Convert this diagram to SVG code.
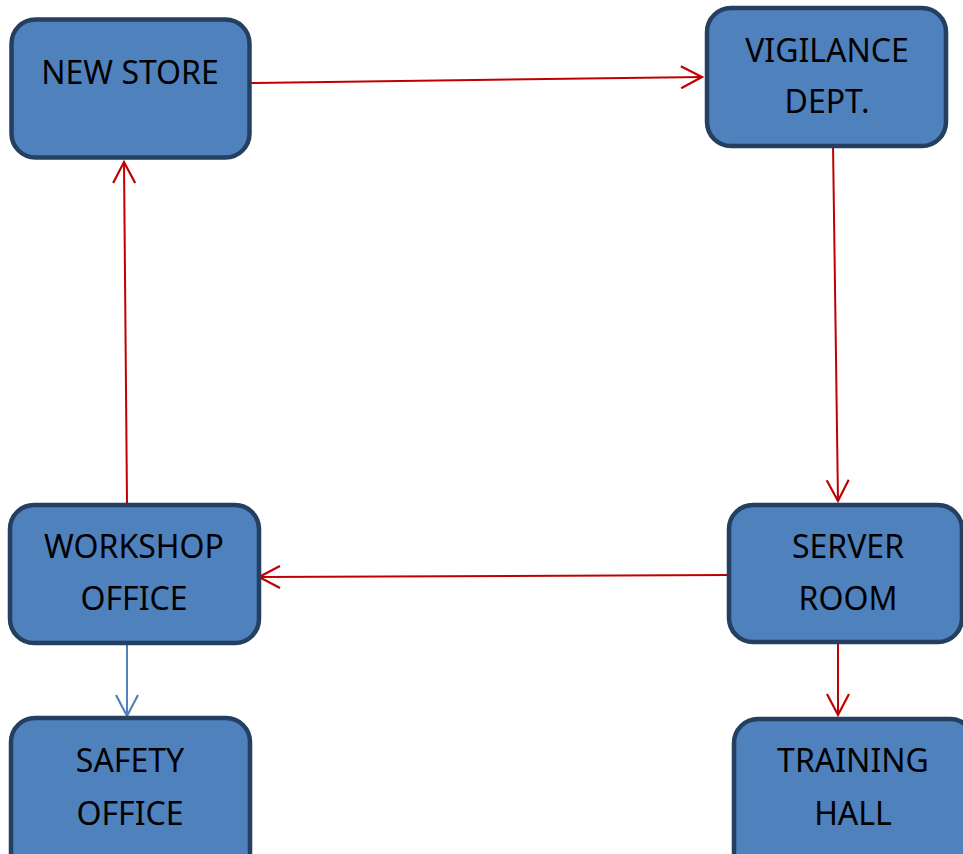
<svg xmlns="http://www.w3.org/2000/svg" width="963" height="854" viewBox="0 0 963 854">
<style>
.box{fill:#4f81bd;stroke:#243f60;stroke-width:4.5}
.lbl{font-family:"Noto Sans","Open Sans",sans-serif;font-size:32px;fill:#000;text-anchor:middle}
.red{stroke:#c00000;stroke-width:2;fill:none}
.blue{stroke:#4f81bd;stroke-width:2;fill:none}
</style>
<defs>
<marker id="ar" markerUnits="userSpaceOnUse" markerWidth="26" markerHeight="26" viewBox="-2 -2 26 26" refX="21" refY="11" orient="auto">
<path d="M0,0 L21,11 L0,22" fill="none" stroke="#c00000" stroke-width="2.2"/>
</marker>
<marker id="ab" markerUnits="userSpaceOnUse" markerWidth="26" markerHeight="26" viewBox="-2 -2 26 26" refX="21" refY="11" orient="auto">
<path d="M0,0 L21,11 L0,22" fill="none" stroke="#4f81bd" stroke-width="2.2"/>
</marker>
</defs>
<rect width="963" height="854" fill="#fff"/>
<g id="connectors">
<line class="red" x1="250" y1="83" x2="702" y2="77" marker-end="url(#ar)"/>
<line class="red" x1="833" y1="144" x2="838" y2="501" marker-end="url(#ar)"/>
<line class="red" x1="727" y1="575" x2="259" y2="577" marker-end="url(#ar)"/>
<line class="red" x1="127" y1="503" x2="124" y2="162" marker-end="url(#ar)"/>
<line class="blue" x1="127" y1="645" x2="127" y2="716" marker-end="url(#ab)"/>
<line class="red" x1="838" y1="644" x2="838" y2="715" marker-end="url(#ar)"/>
</g>
<g id="new-store">
<rect class="box" x="11.5" y="19.5" width="238" height="138" rx="24"/>
<text class="lbl" x="130" y="84">NEW STORE</text>
</g>
<g id="vigilance-dept">
<rect class="box" x="707" y="8" width="239" height="138" rx="24"/>
<text class="lbl" x="827" y="62">VIGILANCE</text>
<text class="lbl" x="827" y="113">DEPT.</text>
</g>
<g id="workshop-office">
<rect class="box" x="10" y="505" width="249" height="138" rx="24"/>
<text class="lbl" x="134" y="558">WORKSHOP</text>
<text class="lbl" x="134" y="610">OFFICE</text>
</g>
<g id="server-room">
<rect class="box" x="729" y="505" width="233" height="137" rx="24"/>
<text class="lbl" x="848" y="558">SERVER</text>
<text class="lbl" x="848" y="610">ROOM</text>
</g>
<g id="safety-office">
<rect class="box" x="11" y="718" width="239" height="160" rx="24"/>
<text class="lbl" x="130" y="772">SAFETY</text>
<text class="lbl" x="130" y="825">OFFICE</text>
</g>
<g id="training-hall">
<rect class="box" x="734" y="719" width="240" height="160" rx="24"/>
<text class="lbl" x="853" y="772">TRAINING</text>
<text class="lbl" x="853" y="825">HALL</text>
</g>
</svg>
